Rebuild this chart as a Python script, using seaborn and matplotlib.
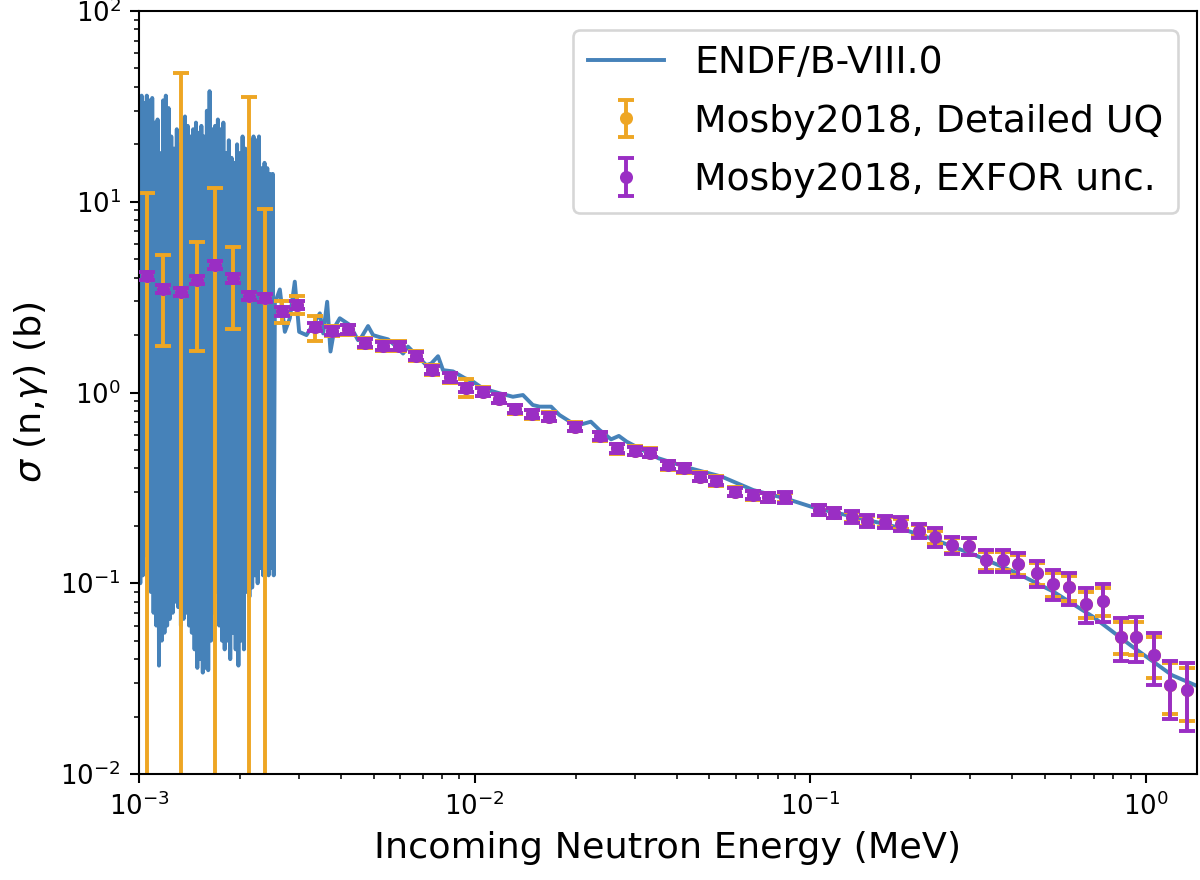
import numpy as np
import pandas as pd
import matplotlib
matplotlib.use("Agg")
import matplotlib.pyplot as plt
import seaborn as sns

# ---------------- data ----------------
# ENDF/B-VIII.0 resolved-resonance region (energies in keV, cross sections in b)
res_energy_keV = [
    1.000, 1.009, 1.018, 1.027, 1.036, 1.046, 1.055, 1.065, 1.075, 1.085,
    1.095, 1.105, 1.115, 1.126, 1.136, 1.147, 1.158, 1.169, 1.180, 1.191,
    1.202, 1.213, 1.225, 1.236, 1.248, 1.260, 1.272, 1.284, 1.296, 1.308,
    1.320, 1.333, 1.345, 1.358, 1.371, 1.384, 1.397, 1.410, 1.423, 1.437,
    1.450, 1.464, 1.478, 1.492, 1.506, 1.520, 1.534, 1.549, 1.563, 1.578,
    1.593, 1.608, 1.623, 1.639, 1.654, 1.670, 1.686, 1.702, 1.718, 1.734,
    1.750, 1.767, 1.784, 1.800, 1.817, 1.835, 1.852, 1.870, 1.887, 1.905,
    1.923, 1.941, 1.960, 1.978, 1.997, 2.016, 2.035, 2.054, 2.074, 2.093,
    2.113, 2.133, 2.153, 2.174, 2.194, 2.215, 2.236, 2.257, 2.278, 2.300,
    2.322, 2.343, 2.366, 2.388, 2.411, 2.433, 2.456, 2.480, 2.503, 2.520,
]
res_xs = [
    30, 0.10, 36, 0.11, 33, 0.14, 36, 0.12, 34, 0.09,
    35, 0.07, 26, 0.06, 27, 0.037, 18, 0.05, 34, 0.055,
    36, 0.06, 31, 0.065, 22, 0.07, 19, 0.08, 24, 0.075,
    20, 0.06, 27, 0.065, 28, 0.07, 25, 0.06, 22, 0.055,
    24, 0.045, 26, 0.036, 23, 0.04, 25, 0.034, 22, 0.036,
    30, 0.035, 38, 0.05, 24, 0.07, 25, 0.09, 27, 0.06,
    24, 0.05, 26, 0.045, 18, 0.05, 21, 0.04, 17, 0.055,
    16, 0.045, 20, 0.037, 18, 0.05, 22, 0.045, 19, 0.09,
    17, 0.085, 21, 0.095, 22, 0.11, 21, 0.10, 22, 0.12,
    15, 0.11, 16, 0.12, 15, 0.11, 14, 0.12, 14, 0.11,
]
# ENDF/B-VIII.0 above the resonance region (MeV, b)
smooth_energy = [
    2.540e-3, 2.628e-3, 2.720e-3, 2.814e-3, 2.912e-3, 3.000e-3, 3.155e-3,
    3.342e-3, 3.458e-3, 3.538e-3, 3.636e-3, 3.720e-3, 3.831e-3, 3.965e-3,
    4.246e-3, 4.495e-3, 4.600e-3, 4.814e-3, 4.982e-3, 5.216e-3, 5.520e-3,
    5.780e-3, 6.120e-3, 6.330e-3, 6.710e-3, 7.180e-3, 7.430e-3, 7.780e-3,
    8.050e-3, 8.620e-3, 9.340e-3, 9.890e-3, 1.059e-2, 1.187e-2, 1.300e-2,
    1.393e-2, 1.490e-2, 1.562e-2, 1.690e-2, 1.790e-2, 1.960e-2, 2.050e-2,
    2.220e-2, 2.355e-2, 2.415e-2, 2.550e-2, 2.690e-2, 2.840e-2, 3.530e-2,
    4.380e-2, 5.450e-2, 6.760e-2, 8.400e-2, 1.043e-1, 1.367e-1, 1.790e-1,
    2.350e-1, 3.080e-1, 4.040e-1, 5.300e-1, 6.950e-1, 9.120e-1, 1.195,
    1.450,
]
smooth_xs = [
    2.94, 3.47, 2.08, 2.45, 3.81, 2.08, 2.00,
    2.35, 2.60, 2.04, 2.99, 1.64, 2.21, 2.45,
    2.26, 1.88, 1.95, 2.23, 2.00, 1.95, 1.90,
    1.77, 1.60, 1.74, 1.57, 1.39, 1.42, 1.55,
    1.31, 1.29, 1.19, 1.14, 1.05, 0.99, 0.95,
    0.97, 0.86, 0.843, 0.843, 0.762, 0.689, 0.676,
    0.703, 0.636, 0.615, 0.568, 0.592, 0.552, 0.452,
    0.401, 0.362, 0.308, 0.279, 0.247, 0.222, 0.198,
    0.169, 0.141, 0.115, 0.0904, 0.0668, 0.0465, 0.0330,
    0.0285,
]

# Mosby2018 measured points (MeV, b)
mosby_energy = [
    1.06e-3, 1.18e-3, 1.33e-3, 1.49e-3, 1.68e-3, 1.90e-3, 2.12e-3, 2.38e-3,
    2.66e-3, 2.96e-3, 3.34e-3, 3.77e-3, 4.20e-3, 4.71e-3, 5.33e-3, 5.95e-3,
    6.70e-3, 7.48e-3, 8.43e-3, 9.44e-3, 1.06e-2, 1.18e-2, 1.32e-2, 1.48e-2,
    1.67e-2, 1.99e-2, 2.36e-2, 2.65e-2, 3.00e-2, 3.34e-2, 3.78e-2, 4.21e-2,
    4.69e-2, 5.23e-2, 5.98e-2, 6.76e-2, 7.50e-2, 8.40e-2, 1.06e-1, 1.18e-1,
    1.33e-1, 1.48e-1, 1.67e-1, 1.87e-1, 2.11e-1, 2.35e-1, 2.65e-1, 2.98e-1,
    3.34e-1, 3.74e-1, 4.17e-1, 4.73e-1, 5.27e-1, 5.90e-1, 6.62e-1, 7.43e-1,
    8.45e-1, 9.36e-1, 1.057, 1.18, 1.33,
]
mosby_xs = [
    4.07, 3.50, 3.36, 3.91, 4.67, 3.97, 3.20, 3.14,
    2.66, 2.89, 2.20, 2.10, 2.14, 1.82, 1.75, 1.75,
    1.55, 1.31, 1.20, 1.06, 1.01, 0.93, 0.817, 0.771,
    0.747, 0.662, 0.59, 0.509, 0.495, 0.483, 0.417, 0.401,
    0.362, 0.344, 0.302, 0.290, 0.282, 0.282, 0.242, 0.233,
    0.223, 0.213, 0.210, 0.205, 0.189, 0.175, 0.159, 0.157,
    0.132, 0.132, 0.126, 0.113, 0.099, 0.095, 0.078, 0.081,
    0.0525, 0.0525, 0.042, 0.0293, 0.0275,
]
# relative uncertainties in percent
detailed_uq_pct = [
    174, 50, 1310, 58, 152, 46, 1000, 191,
    13.5, 10.5, 15, 6, 6, 6, 6, 6,
    6, 6, 6, 11, 5.5, 5.5, 5.5, 5.5,
    5.5, 5.5, 5.5, 6, 5.5, 5.5, 5.5, 5.5,
    5.5, 5.5, 5.5, 5.5, 5.5, 6, 6, 6,
    6, 6, 6, 6, 6.5, 8, 9, 10,
    11, 11, 12, 13, 14.5, 15, 16, 17,
    19, 20, 24, 30, 31,
]
exfor_pct = [
    5, 5, 5, 5, 5, 5, 5, 5,
    5, 5, 5, 5, 5, 5, 5, 5,
    5, 5, 5, 5, 5, 5, 5, 5,
    5, 5, 5, 5, 5, 5, 5, 5,
    5, 5, 5, 5, 5, 7, 6, 6,
    7, 7, 7, 8, 8.8, 11, 10.4, 10.5,
    13, 13.5, 14.6, 15.8, 17.9, 19.3, 20.8, 22.8,
    25.6, 26.5, 30.2, 33.8, 39,
]

# ---------------- build tables ----------------
endf = pd.DataFrame({
    "E": [e * 1e-3 for e in res_energy_keV] + smooth_energy,
    "xs": res_xs + smooth_xs,
})
mosby = pd.DataFrame({"E": mosby_energy, "xs": mosby_xs,
                      "uq": detailed_uq_pct, "exfor": exfor_pct})
mosby["uq_abs"] = mosby["xs"] * mosby["uq"] / 100.0
mosby["exfor_abs"] = mosby["xs"] * mosby["exfor"] / 100.0

# ---------------- plot ----------------
line_color = "#4682b9"
orange = "#eea624"
purple = "#9a2ec4"

fig = plt.figure(figsize=(6.4, 880 / 187.5), dpi=187.5)
ax = fig.add_axes([139 / 1200, 1 - 774 / 880, (1197 - 139) / 1200, (774 - 11) / 880])
ax.set_xscale("log")
ax.set_yscale("log")

sns.lineplot(data=endf, x="E", y="xs", ax=ax, color=line_color, linewidth=1.5,
             estimator=None, sort=False, label="ENDF/B-VIII.0", zorder=1)

ax.errorbar(mosby["E"], mosby["xs"], yerr=mosby["uq_abs"], fmt="o", color=orange,
            ms=4, capsize=3, elinewidth=1.5, capthick=1.5,
            label="Mosby2018, Detailed UQ", zorder=2)
ax.errorbar(mosby["E"], mosby["xs"], yerr=mosby["exfor_abs"], fmt="o", color=purple,
            ms=4, capsize=3, elinewidth=1.5, capthick=1.5,
            label="Mosby2018, EXFOR unc.", zorder=3)

ax.set_xlim(1e-3, 1.42)
ax.set_ylim(1e-2, 1e2)
ax.set_xlabel("Incoming Neutron Energy (MeV)", fontsize=14)
ax.set_ylabel(r"$\sigma$ (n,$\gamma$) (b)", fontsize=14)
ax.tick_params(labelsize=10)
ax.legend(loc="upper right", fontsize=14.5, labelspacing=0.6)

fig.savefig("out.png", dpi=187.5)
